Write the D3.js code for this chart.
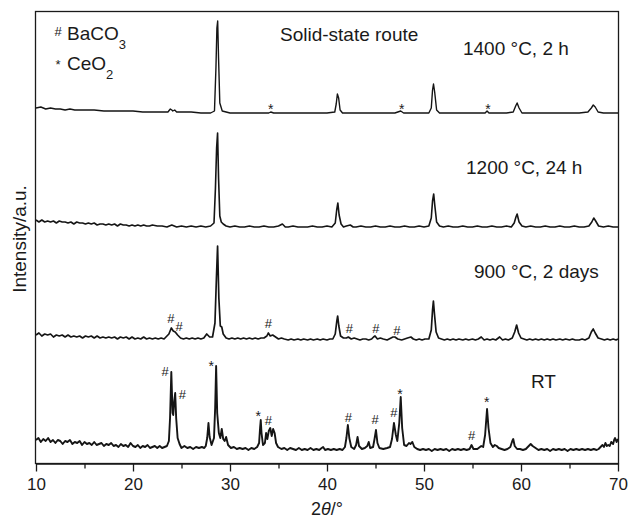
<!DOCTYPE html>
<html>
<head>
<meta charset="utf-8">
<script src="https://cdn.jsdelivr.net/npm/d3@7"></script>
<style>
  body { margin: 0; background: #fff; }
  text { font-family: "Liberation Sans", Arial, Helvetica, sans-serif; fill: #1a1a1a; }
</style>
</head>
<body>
<div id="chart"></div>
<script>
// XRD patterns, [2theta, intensity a.u.]
const rt = [
  [10,23],[10.25,25],[10.5,21],[10.75,24],[11,22],[11.25,25],[11.5,21],[11.75,23],[12,20],[12.25,23],[12.5,22],
  [12.75,19],[13,22],[13.25,21],[13.5,23],[13.75,19],[14,21],[14.25,20],[14.5,22],[14.75,18],[15,21],[15.25,19],
  [15.5,20],[15.75,18],[16,21],[16.25,18],[16.5,19],[16.75,20],[17,17],[17.25,19],[17.5,18],[17.75,20],[18,17],
  [18.25,18],[18.5,16],[18.75,19],[19,17],[19.25,18],[19.5,16],[19.75,20],[20,17],[20.25,16],[20.5,18],[20.75,15],
  [21,17],[21.25,16],[21.5,18],[21.75,15],[22,16],[22.25,17],[22.5,15],[22.75,17],[23,15],[23.25,16],[23.5,17],
  [23.7,22],[23.82,45],[23.95,91],[24.08,50],[24.15,48],[24.25,62],[24.35,70],[24.45,45],[24.6,25],[24.8,19],
  [25.0,15],[25.3,17],[25.6,15],[25.9,16],[26.2,14],[26.5,16],[26.8,15],[27.1,16],[27.35,15],[27.5,17],
  [27.65,25],[27.78,40],[27.9,26],[28.1,18],
  [28.35,25],[28.47,55],[28.57,97],[28.68,50],[28.85,30],[29.0,25],[29.15,34],[29.3,24],[29.45,22],[29.6,26],[29.8,18],
  [30.1,15],[30.4,16],[30.7,14],[31.0,15],[31.3,14],[31.6,15],[31.9,13],[32.2,15],[32.5,14],[32.8,16],
  [33.0,20],[33.1,35],[33.17,43],[33.25,30],[33.4,18],[33.6,20],[33.72,30],[33.85,24],[34.0,32],[34.15,35],[34.3,27],
  [34.45,34],[34.6,30],[34.75,20],[34.95,16],
  [35.3,14],[35.6,15],[35.9,13],[36.2,15],[36.5,14],[36.8,13],[37.1,15],[37.4,13],[37.7,14],[38.0,13],[38.3,15],
  [38.6,13],[38.9,14],[39.2,13],[39.45,15],[39.6,16],[39.8,13],[40.1,14],[40.4,13],[40.7,14],[41.0,13],[41.3,14],
  [41.6,13],[41.85,16],
  [42.0,25],[42.15,38],[42.3,25],[42.5,16],[42.8,14],[43.0,18],[43.15,26],[43.3,17],[43.6,14],[43.9,15],[44.15,17],
  [44.3,21],[44.45,15],[44.75,16],[44.9,24],[45.05,33],[45.2,20],[45.4,15],[45.8,14],[46.2,15],[46.5,16],[46.7,24],
  [46.9,40],[47.1,28],[47.25,22],[47.45,40],[47.6,66],[47.75,35],[47.95,18],[48.2,17],[48.45,20],[48.6,19],[48.8,21],
  [49.0,16],[49.3,14],[49.6,13],[49.9,14],[50.2,13],[50.5,14],[50.8,12],[51.1,14],[51.4,13],[51.7,14],[52.0,13],
  [52.3,14],[52.6,12],[52.9,14],[53.2,13],[53.5,14],[53.8,13],[54.1,14],[54.4,13],[54.7,14],[54.9,18],[55.1,14],
  [55.5,14],[55.9,17],[56.1,16],[56.3,28],[56.5,54],[56.65,35],[56.85,20],
  [57.1,16],[57.3,18],[57.5,17],[57.7,15],[58.0,14],[58.3,13],[58.6,14],[58.9,16],[59.1,22],[59.2,24],[59.35,17],
  [59.6,14],[59.9,14],[60.2,13],[60.5,14],[60.8,17],[61.0,19],[61.2,17],[61.5,15],[61.8,13],[62.1,14],[62.4,13],
  [62.7,14],[63,12],[63.3,14],[63.6,13],[63.9,14],[64.2,13],[64.5,14],[64.8,12],[65.1,14],[65.4,13],[65.7,14],
  [66,13],[66.3,14],[66.6,13],[66.9,14],[67.2,13],[67.5,14],[67.8,13],[68,14],[68.2,16],[68.4,18],[68.55,16],
  [68.7,20],[68.85,17],[69.0,18],[69.15,17],[69.3,21],[69.5,19],[69.6,23],[69.7,25],[69.85,21],[70,24]
];

const c900 = [
  [10,23],[10.3,25],[10.6,22],[10.9,24],[11.2,23],[11.5,24],[11.8,21],[12.1,23],[12.4,22],[12.7,23],[13,21],
  [13.3,23],[13.6,21],[13.9,22],[14.2,21],[14.5,22],[14.8,20],[15.1,22],[15.4,21],[15.7,22],[16,20],[16.3,22],
  [16.6,20],[16.9,21],[17.2,20],[17.5,21],[17.8,20],[18.1,21],[18.4,19],[18.7,21],[19,20],[19.3,21],[19.6,19],
  [19.9,21],[20.2,19],[20.5,20],[20.8,19],[21.1,21],[21.4,19],[21.7,20],[22,19],[22.3,20],[22.6,19],[22.9,20],
  [23.2,19],[23.4,21],[23.7,24],[23.95,30],[24.15,27],[24.35,26],[24.6,23],[24.9,20],[25.2,19],[25.5,20],[25.8,19],
  [26.1,20],[26.4,19],[26.7,20],[27.0,19],[27.3,20],[27.6,24],[27.9,21],[28.2,21],[28.45,35],[28.6,80],[28.72,112],
  [28.85,60],[29.0,32],[29.15,31],[29.3,24],[29.6,20],[29.9,19],[30.2,20],[30.5,19],[30.8,20],[31.1,19],[31.4,20],
  [31.7,19],[32,20],[32.3,19],[32.6,20],[32.9,19],[33.2,20],[33.5,20],[33.8,22],[33.95,25],[34.15,22],[34.4,23],
  [34.7,21],[35,19],[35.3,20],[35.6,19],[36,18],[36.3,19],[36.6,18],[37,19],[37.3,18],[37.6,19],[38,18],[38.3,19],
  [38.6,18],[39,19],[39.3,18],[39.6,19],[40,18],[40.3,19],[40.6,19],[40.85,24],[41.0,36],[41.1,42],[41.22,32],
  [41.4,22],[41.7,20],[42.0,20],[42.2,21],[42.5,19],[42.8,20],[43.1,19],[43.4,18],[43.7,19],[44,19],[44.3,18],
  [44.6,19],[44.8,21],[44.95,22],[45.2,19],[45.5,20],[45.8,19],[46.2,18],[46.6,20],[46.8,21],[47.0,21],[47.3,19],
  [47.7,18],[48.0,19],[48.3,20],[48.65,21],[48.9,19],[49.2,18],[49.5,19],[49.8,18],[50.1,19],[50.5,19],[50.75,28],
  [50.88,48],[50.97,57],[51.07,45],[51.25,26],[51.5,20],[51.8,19],[52.1,18],[52.4,19],[52.7,18],[53,19],[53.3,18],
  [53.6,19],[54,18],[54.3,19],[54.6,18],[55,19],[55.3,18],[55.6,19],[55.9,21],[56.2,18],[56.5,19],[56.8,18],
  [57.1,19],[57.4,18],[57.8,21],[58.1,18],[58.4,19],[58.7,18],[59.1,20],[59.35,26],[59.55,33],[59.75,25],[60.0,20],
  [60.3,19],[60.6,18],[60.9,19],[61.2,18],[61.5,19],[61.8,18],[62.1,19],[62.4,18],[62.7,19],[63,18],[63.3,19],
  [63.6,18],[64,19],[64.3,18],[64.6,19],[65,18],[65.3,19],[65.6,18],[66,18],[66.3,19],[66.6,18],[67,20],[67.25,26],
  [67.45,29],[67.65,25],[67.95,20],[68.3,19],[68.6,18],[68.9,19],[69.2,18],[69.5,19],[69.8,18],[70,19]
];

const c1200 = [
  [10,28],[10.3,26],[10.6,28],[10.9,26],[11.2,27],[11.5,26],[11.8,27],[12.1,25],[12.4,27],[12.7,26],[13,26],
  [13.3,25],[13.6,26],[13.9,24],[14.2,26],[14.5,25],[14.8,25],[15.1,24],[15.4,25],[15.7,24],[16,25],[16.3,23],
  [16.6,24],[16.9,24],[17.2,23],[17.5,24],[17.8,23],[18.1,24],[18.4,22],[18.7,24],[19,23],[19.3,23],[19.6,22],
  [19.9,23],[20.2,22],[20.5,23],[20.8,22],[21.1,23],[21.4,22],[21.7,22],[22,23],[22.5,22],[23,22],[23.5,21],[24,23],
  [24.5,21],[25,22],[25.5,21],[26,22],[26.5,21],[27,22],[27.5,21],[28,22],[28.35,25],[28.5,60],[28.62,100],
  [28.72,115],[28.82,70],[28.95,32],[29.1,26],[29.3,24],[29.6,22],[30,21],[30.5,22],[31,21],[31.5,21],[32,22],
  [32.5,21],[33,21],[33.5,22],[34,21],[34.5,21],[35,22],[35.4,24],[35.7,21],[36,21],[36.5,22],[37,21],[37.5,21],
  [38,21],[38.5,22],[39,21],[39.5,21],[40,22],[40.5,21],[40.85,25],[41.0,38],[41.12,45],[41.25,33],[41.45,24],
  [41.7,21],[42.0,22],[42.4,23],[42.7,21],[43,21],[43.5,22],[44,21],[44.5,21],[45,22],[45.5,21],[46,21],[46.5,22],
  [47,21],[47.5,21],[48,22],[48.5,21],[49,21],[49.5,22],[50,21],[50.5,22],[50.75,30],[50.88,47],[51.0,54],
  [51.12,42],[51.3,26],[51.6,22],[52,21],[52.5,22],[53,21],[53.5,21],[54,22],[54.5,21],[55,21],[55.5,22],[56,21],
  [56.5,21],[57,22],[57.5,21],[58,21],[58.5,22],[59,21],[59.3,25],[59.48,31],[59.6,34],[59.8,26],[60.1,22],
  [60.5,21],[61,22],[61.5,21],[62,21],[62.5,22],[63,21],[63.5,21],[64,22],[64.5,21],[65,21],[65.5,22],[66,21],
  [66.5,21],[67,22],[67.3,26],[67.5,30],[67.7,27],[68.0,22],[68.5,21],[69,22],[69.5,21],[70,21]
];

const c1400 = [
  [10,20],[10.5,21],[11,19],[11.5,20],[12,19],[12.5,19],[13,18],[13.5,19],[14,18],[15,18],[16,18],[17,17],[18,17],
  [19,17],[20,17],[21,16],[22,16],[23,16],[23.6,16],[23.85,19],[24.0,18],[24.1,17],[24.3,18],[24.5,16],[25,16],
  [26,16],[27,15],[28,15],[28.4,17],[28.55,60],[28.65,100],[28.73,107],[28.82,70],[28.95,25],[29.2,17],[29.6,16],
  [30,15],[31,15],[32,15],[33,15],[34,15],[34.2,16],[34.5,15],[35,15],[36,15],[37,15],[38,15],[39,15],[40,15],
  [40.8,16],[40.95,24],[41.07,34],[41.2,30],[41.35,18],[41.6,15],[42,15],[43,15],[44,15],[45,15],[46,15],[47,15],
  [47.6,17],[47.9,15],[48.5,15],[49.5,15],[50.5,15],[50.75,20],[50.88,38],[50.98,44],[51.1,36],[51.3,18],[51.6,15],
  [52.5,15],[53.5,15],[54.5,15],[55.5,15],[56.3,15],[56.5,17],[56.7,15],[57.5,15],[58.5,15],[59.2,16],[59.45,22],
  [59.6,25],[59.8,20],[60.1,15],[61,15],[62,15],[63,15],[64,15],[65,15],[66,15],[66.9,16],[67.25,20],[67.45,23],
  [67.65,21],[67.95,16],[68.5,15],[69.5,15],[70,15]
];

const seriesNames = ["RT", "900 °C, 2 days", "1200 °C, 24 h", "1400 °C, 2 h"];
const seriesData = [rt, c900, c1200, c1400];
const stackOffset = [0, 105, 215, 335];

// phase marks: [series index, 2theta, intensity a.u., symbol]
const marks = [
  [3, 34.2, 22, "*"], [3, 47.7, 22, "*"], [3, 56.6, 22, "*"],
  [1, 23.9, 40, "#"], [1, 24.75, 32, "#"], [1, 33.95, 35, "#"], [1, 42.3, 30, "#"], [1, 45.05, 30, "#"], [1, 47.2, 28, "#"],
  [0, 23.3, 92, "#"], [0, 25.1, 69, "#"], [0, 28.07, 100, "*"], [0, 32.9, 50, "*"], [0, 33.95, 43, "#"],
  [0, 42.2, 46, "#"], [0, 44.95, 44, "#"], [0, 46.9, 51, "#"], [0, 47.53, 72, "*"], [0, 54.9, 28, "#"], [0, 56.46, 64, "*"]
];

const xTicks = [10, 20, 30, 40, 50, 60, 70];
const xMinor = [15, 25, 35, 45, 55, 65];

const width = 628, height = 519;
const svg = d3.select("#chart").append("svg")
  .attr("width", width).attr("height", height);

const x = d3.scaleLinear().domain([10, 70]).range([36, 618]);
const y = d3.scaleLinear().domain([0, 452]).range([463, 11]);

const line = d3.line().x(d => x(d[0]));

// traces
const strokes = [1.9, 1.7, 1.6, 1.4];
seriesData.forEach((s, i) => {
  svg.append("path")
    .datum(s)
    .attr("fill", "none")
    .attr("stroke", "#151515")
    .attr("stroke-width", strokes[i])
    .attr("stroke-linejoin", "round")
    .attr("d", line.y(d => y(d[1] + stackOffset[i])));
});

// frame
svg.append("rect")
  .attr("x", 35.5).attr("y", 11.5)
  .attr("width", 583).attr("height", 452)
  .attr("fill", "none").attr("stroke", "#1a1a1a").attr("stroke-width", 1.3);

// x axis
const xAxis = svg.append("g")
  .attr("transform", "translate(0,463.5)")
  .call(d3.axisBottom(x).tickValues(xTicks).tickSize(8).tickSizeOuter(0).tickPadding(6));
xAxis.select(".domain").attr("stroke", "#1a1a1a").attr("stroke-width", 1.3);
xAxis.selectAll(".tick line").attr("stroke", "#1a1a1a").attr("stroke-width", 1.3);
xAxis.selectAll(".tick text")
  .attr("font-size", "17px")
  .attr("font-family", "Liberation Sans, Arial, sans-serif")
  .attr("fill", "#1a1a1a");

const xAxisMinor = svg.append("g")
  .attr("transform", "translate(0,463.5)")
  .call(d3.axisBottom(x).tickValues(xMinor).tickSize(5).tickFormat(""));
xAxisMinor.select(".domain").remove();
xAxisMinor.selectAll(".tick line").attr("stroke", "#1a1a1a").attr("stroke-width", 1.3);

// axis titles
const xt = svg.append("text")
  .attr("x", 327).attr("y", 515)
  .attr("text-anchor", "middle")
  .attr("font-size", "18px");
xt.append("tspan").text("2");
xt.append("tspan").attr("font-style", "italic").text("θ");
xt.append("tspan").text("/°");

svg.append("text")
  .attr("transform", "translate(26,239) rotate(-90)")
  .attr("text-anchor", "middle")
  .attr("font-size", "19px")
  .text("Intensity/a.u.");

// phase marks
svg.selectAll(".mark")
  .data(marks)
  .enter()
  .append("text")
  .attr("class", "mark")
  .attr("x", d => x(d[1]))
  .attr("y", d => y(d[2] + stackOffset[d[0]]))
  .attr("dy", d => d[3] === "*" ? "0.6em" : "0.36em")
  .attr("text-anchor", "middle")
  .attr("font-size", d => d[3] === "*" ? "14px" : "13px")
  .text(d => d[3]);

// series labels
const labelPos = [[61.03, 75], [55.15, 185], [54.33, 289], [54.02, 408]];
svg.selectAll(".slabel")
  .data(seriesNames)
  .enter()
  .append("text")
  .attr("class", "slabel")
  .attr("x", (d, i) => x(labelPos[i][0]))
  .attr("y", (d, i) => y(labelPos[i][1]))
  .attr("font-size", "19px")
  .text(d => d);

svg.append("text")
  .attr("x", 280).attr("y", 41)
  .attr("font-size", "19px")
  .text("Solid-state route");

// legend
const legend = [["#", "BaCO", "3"], ["*", "CeO", "2"]];
legend.forEach((l, i) => {
  const by = 40 + i * 30;
  svg.append("text")
    .attr("x", 58).attr("y", l[0] === "*" ? by - 1 : by - 4)
    .attr("text-anchor", "middle")
    .attr("font-size", "13px")
    .text(l[0]);
  const t = svg.append("text").attr("x", 67).attr("y", by).attr("font-size", "19px");
  t.append("tspan").text(l[1]);
  t.append("tspan").attr("font-size", "13px").attr("dy", 9).text(l[2]);
});
</script>
</body>
</html>
